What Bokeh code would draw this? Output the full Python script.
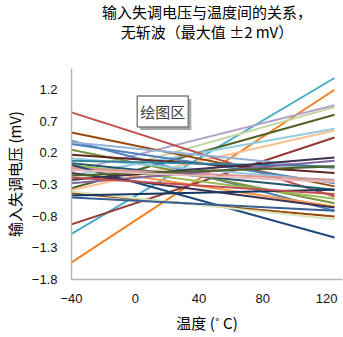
from bokeh.plotting import figure
from bokeh.models import Label, FixedTicker, Range1d, Title
from bokeh.embed import file_html
from bokeh.resources import INLINE

# data
temps = [-40, 125]
start_vals = [-1.53, -1.08, -0.93, -0.09, -0.25, -0.36, -0.16, -0.39,
              0.837, 0.52, 0.39, 0.367, 0.34, 0.247, 0.168, 0.115, 0.073,
              0.036, 0.01, -0.016, -0.043, 0.01, -0.227, -0.28, -0.44,
              -0.41, -0.12, -0.475, -0.506, -0.19, -0.16, -0.07]
end_vals = [1.195, 1.38, 0.44, 0.95, 0.92, 0.80, 0.58, 0.55,
            -0.49, -0.33, -0.716, -0.043, -0.28, -0.596, -0.12, -0.25, -0.016,
            -0.385, -0.527, -0.648, -0.227, -1.138, 0.126, 0.074, -0.806,
            -0.85, -0.664, -0.385, -0.716, -0.45, -0.016, -0.26]
line_colors = ["#f57f20", "#4bacc6", "#953735", "#b3a2c7", "#c3d69b", "#4f6228", "#93cdde", "#fac090",
               "#c0504d", "#984807", "#4f81bd", "#95b3d7", "#4f81bd", "#77933c", "#632423", "#93cdde", "#31859c",
               "#215968", "#9bbb59", "#f79646", "#d99694", "#1f497d", "#403151", "#8064a2", "#984807",
               "#d7e4bd", "#3f3151", "#17375e", "#376092", "#c0504d", "#4f6228", "#e6b9b8"]
x_ticks = [-40, 0, 40, 80, 120]
y_ticks = [-1.8, -1.3, -0.8, -0.3, 0.2, 0.7, 1.2]
title_line1 = "输入失调电压与温度间的关系，"
title_line2 = "无斩波（最大值 ±2 mV）"
x_label = "温度 (˚ C)"
y_label = "输入失调电压 (mV)"
box_text = "绘图区"

cjk = "Noto Sans CJK SC"
latin = "Liberation Sans"

p = figure(width=343, height=337, output_backend="svg", toolbar_location=None,
           x_range=Range1d(-40, 130), y_range=Range1d(-1.8, 1.53),
           min_border_left=70, min_border_right=1, min_border_top=67, min_border_bottom=58)
p.title = None
# spacer title (nearest the frame), then the two title lines
spacer = Title(text=" ", align="center", text_font=cjk, text_font_size="15px", standoff=5)
t2 = Title(text=title_line2, align="center", text_font=cjk, text_font_size="15px",
           text_font_style="normal", text_color="#000000", standoff=-3)
t1 = Title(text=title_line1, align="center", text_font=cjk, text_font_size="15px",
           text_font_style="normal", text_color="#000000", standoff=-3)
p.add_layout(spacer, "above")
p.add_layout(t2, "above")
p.add_layout(t1, "above")

for s, e, c in zip(start_vals, end_vals, line_colors):
    p.line(temps, [s, e], line_color=c, line_width=2)

p.xgrid.visible = False
p.ygrid.visible = False
p.outline_line_color = None
p.background_fill_color = "white"
p.border_fill_color = "white"

p.xaxis.ticker = FixedTicker(ticks=x_ticks)
p.yaxis.ticker = FixedTicker(ticks=y_ticks)
for ax in (p.xaxis[0], p.yaxis[0]):
    ax.axis_line_color = "#b7b7b7"
    ax.axis_line_width = 1.5
    ax.major_tick_line_color = None
    ax.minor_tick_line_color = None
    ax.major_label_text_font = latin
    ax.major_label_text_font_size = "13px"
    ax.major_label_text_color = "#111111"
    ax.axis_label_text_font = cjk
    ax.axis_label_text_font_size = "15px"
    ax.axis_label_text_font_style = "normal"
    ax.axis_label_text_color = "#000000"
p.xaxis.axis_label = x_label
p.yaxis.axis_label = y_label
p.xaxis.major_label_standoff = 8
p.yaxis.major_label_standoff = 8
p.xaxis.axis_label_standoff = 6
p.yaxis.axis_label_standoff = 4

shadow = Label(x=1.25, y=0.852, text=box_text, text_font=cjk, text_font_size="15px",
               text_color="rgba(0,0,0,0)", text_baseline="middle",
               background_fill_color="#a6a6a6", padding=(3, 5),
               x_offset=3, y_offset=-3)
box = Label(x=1.25, y=0.852, text=box_text, text_font=cjk, text_font_size="15px",
            text_color="#404040", text_baseline="middle",
            background_fill_color="white", border_line_color="#7f7f7f", border_line_width=1.5,
            padding=(3, 5))
p.add_layout(shadow)
p.add_layout(box)

open("out.html", "w").write(file_html(p, INLINE))
